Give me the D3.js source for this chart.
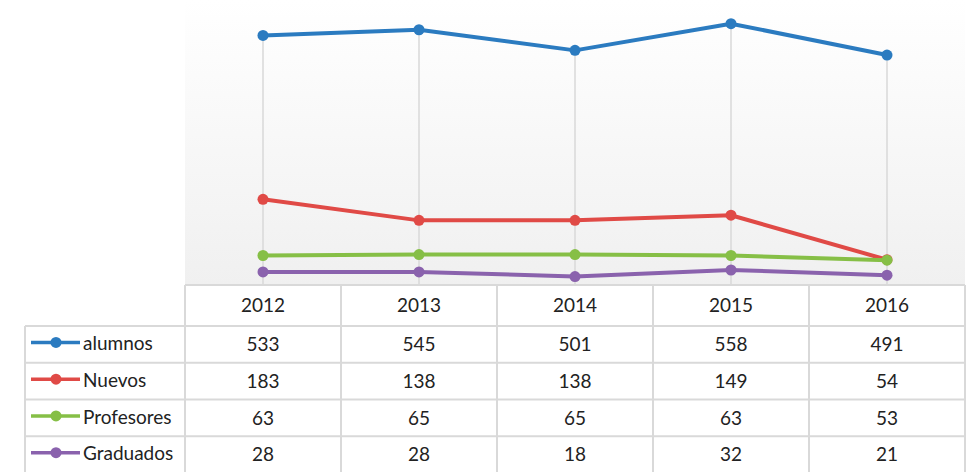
<!DOCTYPE html>
<html>
<head>
<meta charset="utf-8">
<script src="https://cdn.jsdelivr.net/npm/d3@7"></script>
<style>
  body { margin: 0; background: #fff; }
  text { font-family: Lato, "Open Sans", sans-serif; fill: #222; }
</style>
</head>
<body>
<div class="chart"></div>
<script>
// data
var years = ["2012", "2013", "2014", "2015", "2016"];
var seriesNames = ["alumnos", "Nuevos", "Profesores", "Graduados"];
var alumnos = [533, 545, 501, 558, 491];
var nuevos = [183, 138, 138, 149, 54];
var profesores = [63, 65, 65, 63, 53];
var graduados = [28, 28, 18, 32, 21];
var colors = ["#2b7bc0", "#e04a46", "#86bf46", "#8a62ad"];

var seriesValues = [alumnos, nuevos, profesores, graduados];

var svgWidth = 967;
var svgHeight = 472;

var plotLeft = 185;
var plotRight = 965;
var plotTop = 4;
var plotBottom = 285;
var headerBottom = 326;
var legendLeft = 25;

var svg = d3.select(".chart")
    .append("svg")
    .attr("width", svgWidth)
    .attr("height", svgHeight);

var x = d3.scaleBand().domain(years).range([plotLeft, plotRight]);
var y = d3.scaleLinear().domain([0, 600]).range([plotBottom, plotTop]);
var row = d3.scaleBand().domain(seriesNames).range([headerBottom, svgHeight + 1]);

// plot background gradient
var grad = svg.append("defs").append("linearGradient")
    .attr("id", "bg")
    .attr("x1", 0).attr("y1", 0).attr("x2", 0).attr("y2", 1);
grad.append("stop").attr("offset", "0%").attr("stop-color", "#ffffff");
grad.append("stop").attr("offset", "100%").attr("stop-color", "#f0f0f0");

svg.append("rect")
    .attr("x", plotLeft)
    .attr("y", 0)
    .attr("width", plotRight - plotLeft)
    .attr("height", plotBottom)
    .attr("fill", "url(#bg)");

// drop lines from the highest point down to the axis
svg.selectAll(".drop")
    .data(years)
    .enter()
    .append("line")
    .attr("x1", function(d) { return x(d) + x.bandwidth() / 2; })
    .attr("x2", function(d) { return x(d) + x.bandwidth() / 2; })
    .attr("y1", function(d, i) { return y(d3.max(seriesValues, function(s) { return s[i]; })); })
    .attr("y2", plotBottom)
    .attr("stroke", "#d9d9d9")
    .attr("stroke-width", 1.5);

// lines + markers
var line = d3.line()
    .x(function(d, i) { return x(years[i]) + x.bandwidth() / 2; })
    .y(function(d) { return y(d); });

seriesValues.forEach(function(vals, k) {
    svg.append("path")
        .datum(vals)
        .attr("d", line)
        .attr("fill", "none")
        .attr("stroke", colors[k])
        .attr("stroke-width", 4)
        .attr("stroke-linejoin", "round");

    svg.selectAll(".pt" + k)
        .data(vals)
        .enter()
        .append("circle")
        .attr("cx", function(d, i) { return x(years[i]) + x.bandwidth() / 2; })
        .attr("cy", function(d) { return y(d); })
        .attr("r", 5.5)
        .attr("fill", colors[k]);
});

// data table
var grid = svg.append("g")
    .attr("stroke", "#d9d9d9")
    .attr("stroke-width", 2);

// horizontal lines
grid.append("line")
    .attr("x1", plotLeft).attr("x2", plotRight)
    .attr("y1", plotBottom).attr("y2", plotBottom);
seriesNames.forEach(function(name) {
    grid.append("line")
        .attr("x1", legendLeft).attr("x2", plotRight)
        .attr("y1", row(name)).attr("y2", row(name));
});

// vertical lines
grid.append("line")
    .attr("x1", legendLeft).attr("x2", legendLeft)
    .attr("y1", headerBottom).attr("y2", svgHeight);
years.forEach(function(yr) {
    grid.append("line")
        .attr("x1", x(yr)).attr("x2", x(yr))
        .attr("y1", plotBottom).attr("y2", svgHeight);
});
grid.append("line")
    .attr("x1", plotRight).attr("x2", plotRight)
    .attr("y1", plotBottom).attr("y2", svgHeight);

// header labels
svg.selectAll(".yearLabel")
    .data(years)
    .enter()
    .append("text")
    .attr("x", function(d) { return x(d) + x.bandwidth() / 2; })
    .attr("y", (plotBottom + headerBottom) / 2)
    .attr("dy", "0.36em")
    .attr("text-anchor", "middle")
    .attr("font-size", 19)
    .text(function(d) { return d; });

// rows
seriesNames.forEach(function(name, k) {
    var cy = row(name) + row.bandwidth() / 2;

    svg.append("line")
        .attr("x1", 31).attr("x2", 80)
        .attr("y1", cy - 2).attr("y2", cy - 2)
        .attr("stroke", colors[k])
        .attr("stroke-width", 3.5);
    svg.append("circle")
        .attr("cx", 56).attr("cy", cy - 2)
        .attr("r", 5.5)
        .attr("fill", colors[k]);
    svg.append("text")
        .attr("x", 83)
        .attr("y", cy)
        .attr("dy", "0.3em")
        .attr("font-size", 19)
        .text(name);

    svg.selectAll(".val" + k)
        .data(seriesValues[k])
        .enter()
        .append("text")
        .attr("x", function(d, i) { return x(years[i]) + x.bandwidth() / 2; })
        .attr("y", cy)
        .attr("dy", "0.36em")
        .attr("text-anchor", "middle")
        .attr("font-size", 19)
        .text(function(d) { return d; });
});
</script>
</body>
</html>
